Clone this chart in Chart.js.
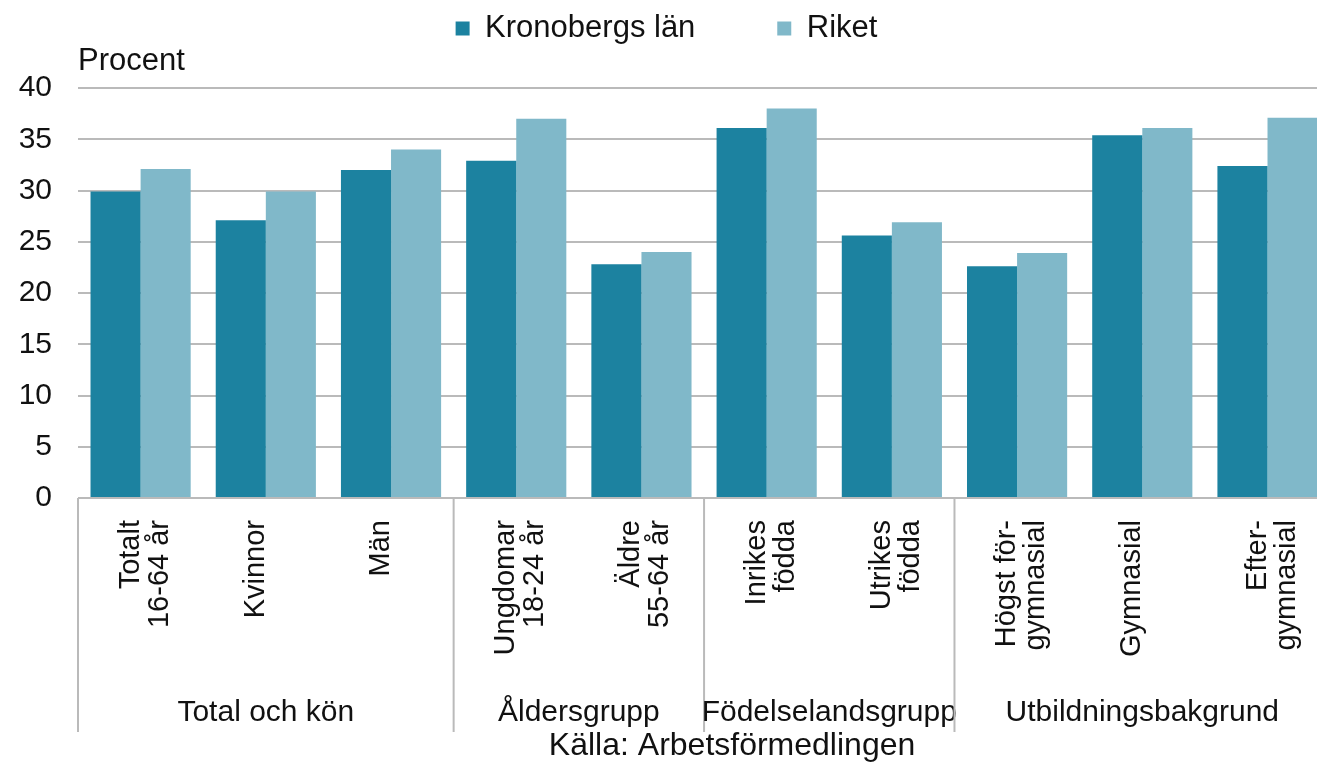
<!DOCTYPE html>
<html>
<head>
<meta charset="utf-8">
<title>Kronobergs län och Riket</title>
<script src="https://cdn.jsdelivr.net/npm/chart.js@4.4.1/dist/chart.umd.min.js"></script>
<style>
    html, body { margin: 0; padding: 0; background: #fff; overflow: hidden; }
    #wrap { width: 1340px; height: 762px; }
</style>
</head>
<body>
<div id="wrap"><canvas id="chart" width="1340" height="762"></canvas></div>
<script>
// data
const categories = [
    ['Totalt', '16-64 år'], ['Kvinnor'], ['Män'],
    ['Ungdomar', '18-24 år'], ['Äldre', '55-64 år'],
    ['Inrikes', 'födda'], ['Utrikes', 'födda'],
    ['Högst för-', 'gymnasial'], ['Gymnasial'], ['Efter-', 'gymnasial']
];
const kronoberg = [29.9, 27.1, 32.0, 32.9, 22.8, 36.1, 25.6, 22.6, 35.4, 32.4];
const riket = [32.1, 29.9, 34.0, 37.0, 24.0, 38.0, 26.9, 23.9, 36.1, 37.1];
const groupNames = ['Total och kön', 'Åldersgrupp', 'Födelselandsgrupp', 'Utbildningsbakgrund'];
const groupSizes = [3, 2, 2, 3];
const source = 'Källa: Arbetsförmedlingen';

const FONT = "'Liberation Sans', Arial, sans-serif";
const GRID = '#bababa';

// group separators + group names under the category labels
const groupAxis = {
    id: 'groupAxis',
    afterDraw(chart) {
        const ctx = chart.ctx;
        const xs = chart.scales.x;
        const half = (xs.getPixelForValue(1) - xs.getPixelForValue(0)) / 2;
        const bottom = chart.chartArea.bottom;
        ctx.save();
        ctx.strokeStyle = GRID;
        ctx.lineWidth = 2;
        ctx.fillStyle = '#111';
        ctx.font = '30px ' + FONT;
        ctx.textAlign = 'center';
        ctx.textBaseline = 'middle';
        let start = 0;
        groupSizes.forEach((n, i) => {
            const x0 = xs.getPixelForValue(start) - half;
            const x1 = xs.getPixelForValue(start + n - 1) + half;
            ctx.beginPath();
            ctx.moveTo(x0, bottom);
            ctx.lineTo(x0, bottom + 234);
            ctx.stroke();
            ctx.fillText(groupNames[i], (x0 + x1) / 2, bottom + 215);
            start += n;
        });
        ctx.font = '32px ' + FONT;
        ctx.fillText(source, (xs.left + xs.right) / 2 + 28, bottom + 248);
        ctx.restore();
    }
};

new Chart(document.getElementById('chart'), {
    type: 'bar',
    data: {
        labels: categories,
        datasets: [
            { label: 'Kronobergs län', data: kronoberg, backgroundColor: '#1c82a0' },
            { label: 'Riket', data: riket, backgroundColor: '#80b8c9' }
        ]
    },
    options: {
        responsive: false,
        animation: false,
        categoryPercentage: 0.8,
        barPercentage: 1.0,
        layout: { padding: { left: 0, right: 7, top: 0, bottom: 0 } },
        plugins: {
            legend: {
                position: 'top',
                weight: 3000,
                labels: {
                    boxWidth: 14,
                    boxHeight: 14,
                    padding: 13,
                    color: '#111',
                    font: { family: FONT, size: 31, lineHeight: 1 },
                    generateLabels(chart) {
                        const items = Chart.defaults.plugins.legend.labels.generateLabels(chart);
                        // wider gap between the two entries, as in the original legend
                        items[0].text += '\u00a0'.repeat(8);
                        return items;
                    }
                }
            },
            title: {
                display: true,
                text: 'Procent',
                align: 'start',
                fullSize: false,
                weight: 2000,
                color: '#111',
                font: { family: FONT, size: 31, weight: 'normal', lineHeight: 1 },
                padding: { top: -8, bottom: 11 }
            },
            tooltip: { enabled: false }
        },
        scales: {
            x: {
                grid: { display: false },
                border: { display: false },
                ticks: {
                    autoSkip: false,
                    minRotation: 90,
                    maxRotation: 90,
                    padding: 14,
                    labelOffset: -10,
                    color: '#111',
                    font: { family: FONT, size: 29, lineHeight: 1.0 }
                },
                afterFit(scale) { scale.height = 264; }
            },
            y: {
                min: 0,
                max: 40,
                grid: { color: GRID, lineWidth: 2, drawTicks: false },
                border: { display: false },
                ticks: {
                    stepSize: 5,
                    padding: 26,
                    color: '#111',
                    font: { family: FONT, size: 30 }
                },
                afterFit(scale) { scale.width = 78; }
            }
        }
    },
    plugins: [groupAxis]
});
</script>
</body>
</html>
